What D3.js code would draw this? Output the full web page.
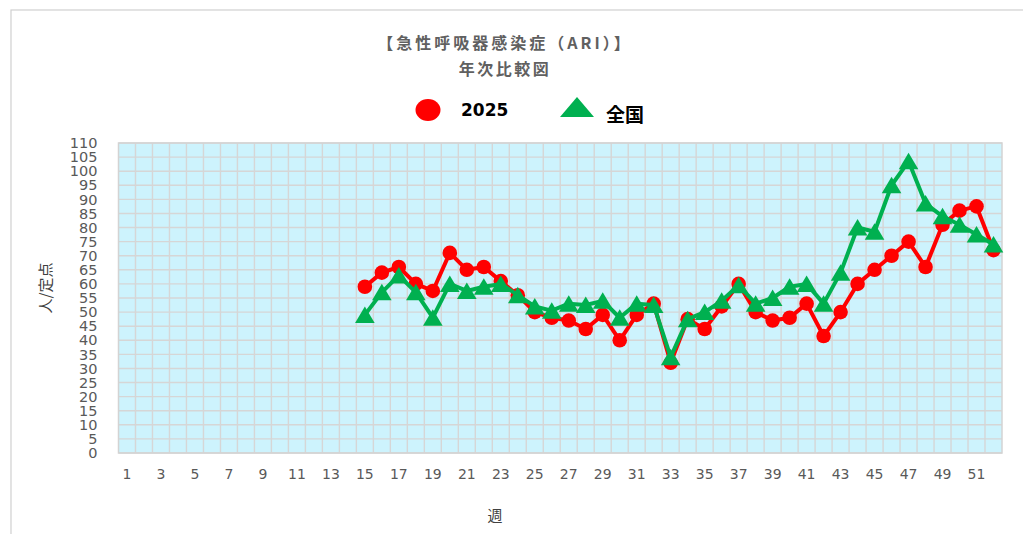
<!DOCTYPE html>
<html>
<head>
<meta charset="utf-8">
<script src="https://cdn.jsdelivr.net/npm/d3@7/dist/d3.min.js"></script>
<style>
  html, body { margin: 0; padding: 0; background: #fff; }
  svg { display: block; }
  text { font-family: "DejaVu Sans", "Noto Sans CJK JP", sans-serif; }
  .jp { font-family: "Noto Sans CJK JP", "DejaVu Sans", sans-serif; }
</style>
</head>
<body>
<svg id="chart" width="1023" height="534"></svg>
<script>
// Weeks 1–52
const weeks = d3.range(1, 53);
// Weekly reports per sentinel site, from week 15 onward
const startWeek = 15;
const values2025 = [59, 64, 66, 60, 57.5, 71, 65, 66, 61, 56, 50, 48, 47, 44, 49, 40, 49, 53, 32,
  47.5, 44, 52, 60, 50, 47, 48, 53, 41.5, 50, 60, 65, 70, 75, 66, 81, 86, 87.5, 72];
const valuesNational = [49, 57, 63, 57, 48, 60, 57.5, 59, 60, 56, 52, 50.5, 53, 52.5, 54, 48, 53, 52.5, 34,
  47.5, 50, 54, 59.5, 53, 55, 59, 60, 53, 64, 80, 78.5, 95, 103.5, 88.5, 84, 81, 77.5, 74];
const yTicks = d3.range(0, 111, 5);
const xTickLabels = weeks.filter(w => w % 2 === 1);

const titleLines = ["【急性呼吸器感染症（ARI）】", "年次比較図"];
const seriesNames = ["2025", "全国"];

const svg = d3.select("#chart");
const W = 1023, H = 534;
const plot = { left: 118.5, right: 1002, top: 143, bottom: 453 };

// outer chart frame
svg.append("rect")
  .attr("x", 11).attr("y", 10).attr("width", W + 20).attr("height", H + 20)
  .attr("fill", "#fff").attr("stroke", "#d0d0d0").attr("stroke-width", 1.2);

const x = d3.scaleBand().domain(weeks).range([plot.left, plot.right]).padding(0);
const y = d3.scaleLinear().domain([0, 110]).range([plot.bottom, plot.top]);
const cx = w => x(w) + x.bandwidth() / 2;

// plot background
svg.append("rect")
  .attr("x", plot.left).attr("y", plot.top)
  .attr("width", plot.right - plot.left).attr("height", plot.bottom - plot.top)
  .attr("fill", "#cdf3fd");

// grid
const grid = svg.append("g").attr("stroke", "#d6d6d6").attr("stroke-width", 1.4);
grid.selectAll("line.h").data(yTicks).join("line")
  .attr("x1", plot.left).attr("x2", plot.right)
  .attr("y1", d => y(d)).attr("y2", d => y(d));
grid.selectAll("line.v").data(weeks.slice(1)).join("line")
  .attr("x1", d => x(d)).attr("x2", d => x(d))
  .attr("y1", plot.top).attr("y2", plot.bottom);
svg.append("rect")
  .attr("x", plot.left).attr("y", plot.top)
  .attr("width", plot.right - plot.left).attr("height", plot.bottom - plot.top)
  .attr("fill", "none").attr("stroke", "#d3d3d3").attr("stroke-width", 1.5);

// y axis
const yAxis = svg.append("g")
  .attr("transform", `translate(${plot.left - 21},0)`)
  .call(d3.axisLeft(y).tickValues(yTicks).tickSize(0).tickPadding(0));
yAxis.select(".domain").remove();
yAxis.selectAll("text").attr("fill", "#595959").style("font-size", "14.5px")
  .style("font-family", "DejaVu Sans");

// x axis
const xAxis = svg.append("g")
  .attr("transform", `translate(0,${plot.bottom + 16})`)
  .call(d3.axisBottom(x).tickValues(xTickLabels).tickSize(0).tickPadding(0));
xAxis.select(".domain").remove();
xAxis.selectAll("text").attr("fill", "#595959").style("font-size", "14px")
  .style("font-family", "DejaVu Sans");

// axis titles
svg.append("text").attr("class", "jp")
  .attr("transform", "translate(51,288) rotate(-90)")
  .attr("text-anchor", "middle").attr("fill", "#404040")
  .style("font-size", "15px").text("人/定点");
svg.append("text").attr("class", "jp")
  .attr("x", 495).attr("y", 521)
  .attr("text-anchor", "middle").attr("fill", "#404040")
  .style("font-size", "15px").text("週");

// titles
svg.selectAll("text.title").data(titleLines).join("text")
  .attr("class", "jp title")
  .attr("x", 505).attr("y", (d, i) => 49 + i * 26)
  .attr("text-anchor", "middle").attr("fill", "#606060")
  .style("font-size", "16px").style("font-weight", "bold")
  .style("letter-spacing", (d, i) => i === 0 ? "3px" : "2.5px")
  .text(d => d);

// series
const data2025 = values2025.map((v, i) => ({ w: startWeek + i, v }));
const dataNat = valuesNational.map((v, i) => ({ w: startWeek + i, v }));
const line = d3.line().x(d => cx(d.w)).y(d => y(d.v));

const red = "#ff0000", green = "#00b050";

svg.append("path").datum(data2025)
  .attr("d", line).attr("fill", "none").attr("stroke", red).attr("stroke-width", 4)
  .attr("stroke-linejoin", "round");
svg.append("g").selectAll("circle").data(data2025).join("circle")
  .attr("cx", d => cx(d.w)).attr("cy", d => y(d.v)).attr("r", 7.3)
  .attr("fill", red);

// triangle marker centred on its bounding box
const triPath = "M0,-8.5 L9.8,8 L-9.8,8 Z";
svg.append("path").datum(dataNat)
  .attr("d", line).attr("fill", "none").attr("stroke", green).attr("stroke-width", 4)
  .attr("stroke-linejoin", "round");
svg.append("g").selectAll("path").data(dataNat).join("path")
  .attr("d", triPath)
  .attr("transform", d => `translate(${cx(d.w)},${y(d.v)})`)
  .attr("fill", green);

// legend
const lg = svg.append("g");
lg.append("ellipse").attr("cx", 428).attr("cy", 110).attr("rx", 12.5).attr("ry", 11)
  .attr("fill", red);
lg.append("text").attr("x", 461).attr("y", 116)
  .attr("fill", "#000").style("font-size", "17px").style("font-weight", "bold")
  .style("font-family", "DejaVu Sans")
  .text(seriesNames[0]);
lg.append("path")
  .attr("d", "M560,117 L594,117 L577,97 Z")
  .attr("fill", green);
lg.append("text").attr("class", "jp").attr("x", 606).attr("y", 122)
  .attr("fill", "#000").style("font-size", "19px").style("font-weight", "bold")
  .text(seriesNames[1]);
</script>
</body>
</html>
